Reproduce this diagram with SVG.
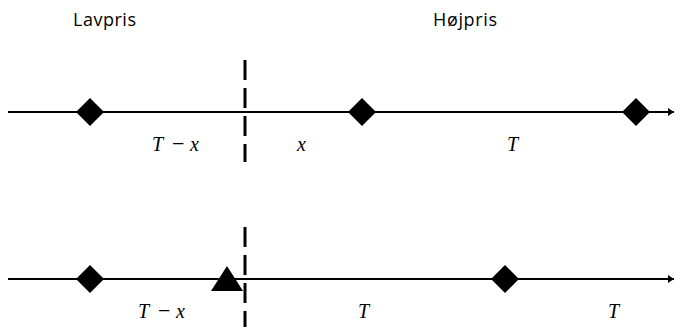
<svg xmlns="http://www.w3.org/2000/svg" width="676" height="327" viewBox="0 0 676 327">
<style>
.axis{stroke:#000;stroke-width:2;fill:none}
.dash{stroke:#000;stroke-width:3;stroke-dasharray:20 8;fill:none}
.mark{fill:#000}
.lbl{font-family:"Open Sans","DejaVu Sans",sans-serif;font-size:18px;fill:#000}
.math{font-family:"Liberation Serif","DejaVu Serif",serif;font-style:italic;font-size:20px;fill:#000}
.op{font-style:normal;font-size:22px}
</style>
<defs>
<marker id="arr" markerWidth="8" markerHeight="8" refX="6" refY="4" orient="auto" markerUnits="userSpaceOnUse">
<path d="M0,0 L6,4 L0,8 Z" fill="#000"/>
</marker>
</defs>
<g id="headers">
<text class="lbl" x="73" y="26" textLength="63">Lavpris</text>
<text class="lbl" x="433" y="26" textLength="64">Højpris</text>
</g>
<g id="connectors">
<line class="axis" x1="8" y1="112" x2="674" y2="112" marker-end="url(#arr)"/>
<line class="axis" x1="8" y1="279" x2="674" y2="279" marker-end="url(#arr)"/>
<line class="dash" x1="245" y1="60" x2="245" y2="162"/>
<line class="dash" x1="245" y1="227" x2="245" y2="327"/>
</g>
<g id="top-d1"><polygon class="mark" points="90,98 104,112 90,126 76,112"/></g>
<g id="top-d2"><polygon class="mark" points="362,98 376,112 362,126 348,112"/></g>
<g id="top-d3"><polygon class="mark" points="636,98 650,112 636,126 622,112"/></g>
<g id="bot-d1"><polygon class="mark" points="90,265 104,279 90,293 76,279"/></g>
<g id="bot-tri"><polygon class="mark" points="227,266 243,291 211,291"/></g>
<g id="bot-d2"><polygon class="mark" points="505,265 519,279 505,293 491,279"/></g>
<g id="labels">
<text class="math" y="151"><tspan x="152">T</tspan><tspan class="op" x="172">−</tspan><tspan x="190">x</tspan></text>
<text class="math" x="297" y="151">x</text>
<text class="math" x="507" y="151">T</text>
<text class="math" y="318"><tspan x="138">T</tspan><tspan class="op" x="158">−</tspan><tspan x="176">x</tspan></text>
<text class="math" x="358" y="318">T</text>
<text class="math" x="608" y="318">T</text>
</g>
</svg>
